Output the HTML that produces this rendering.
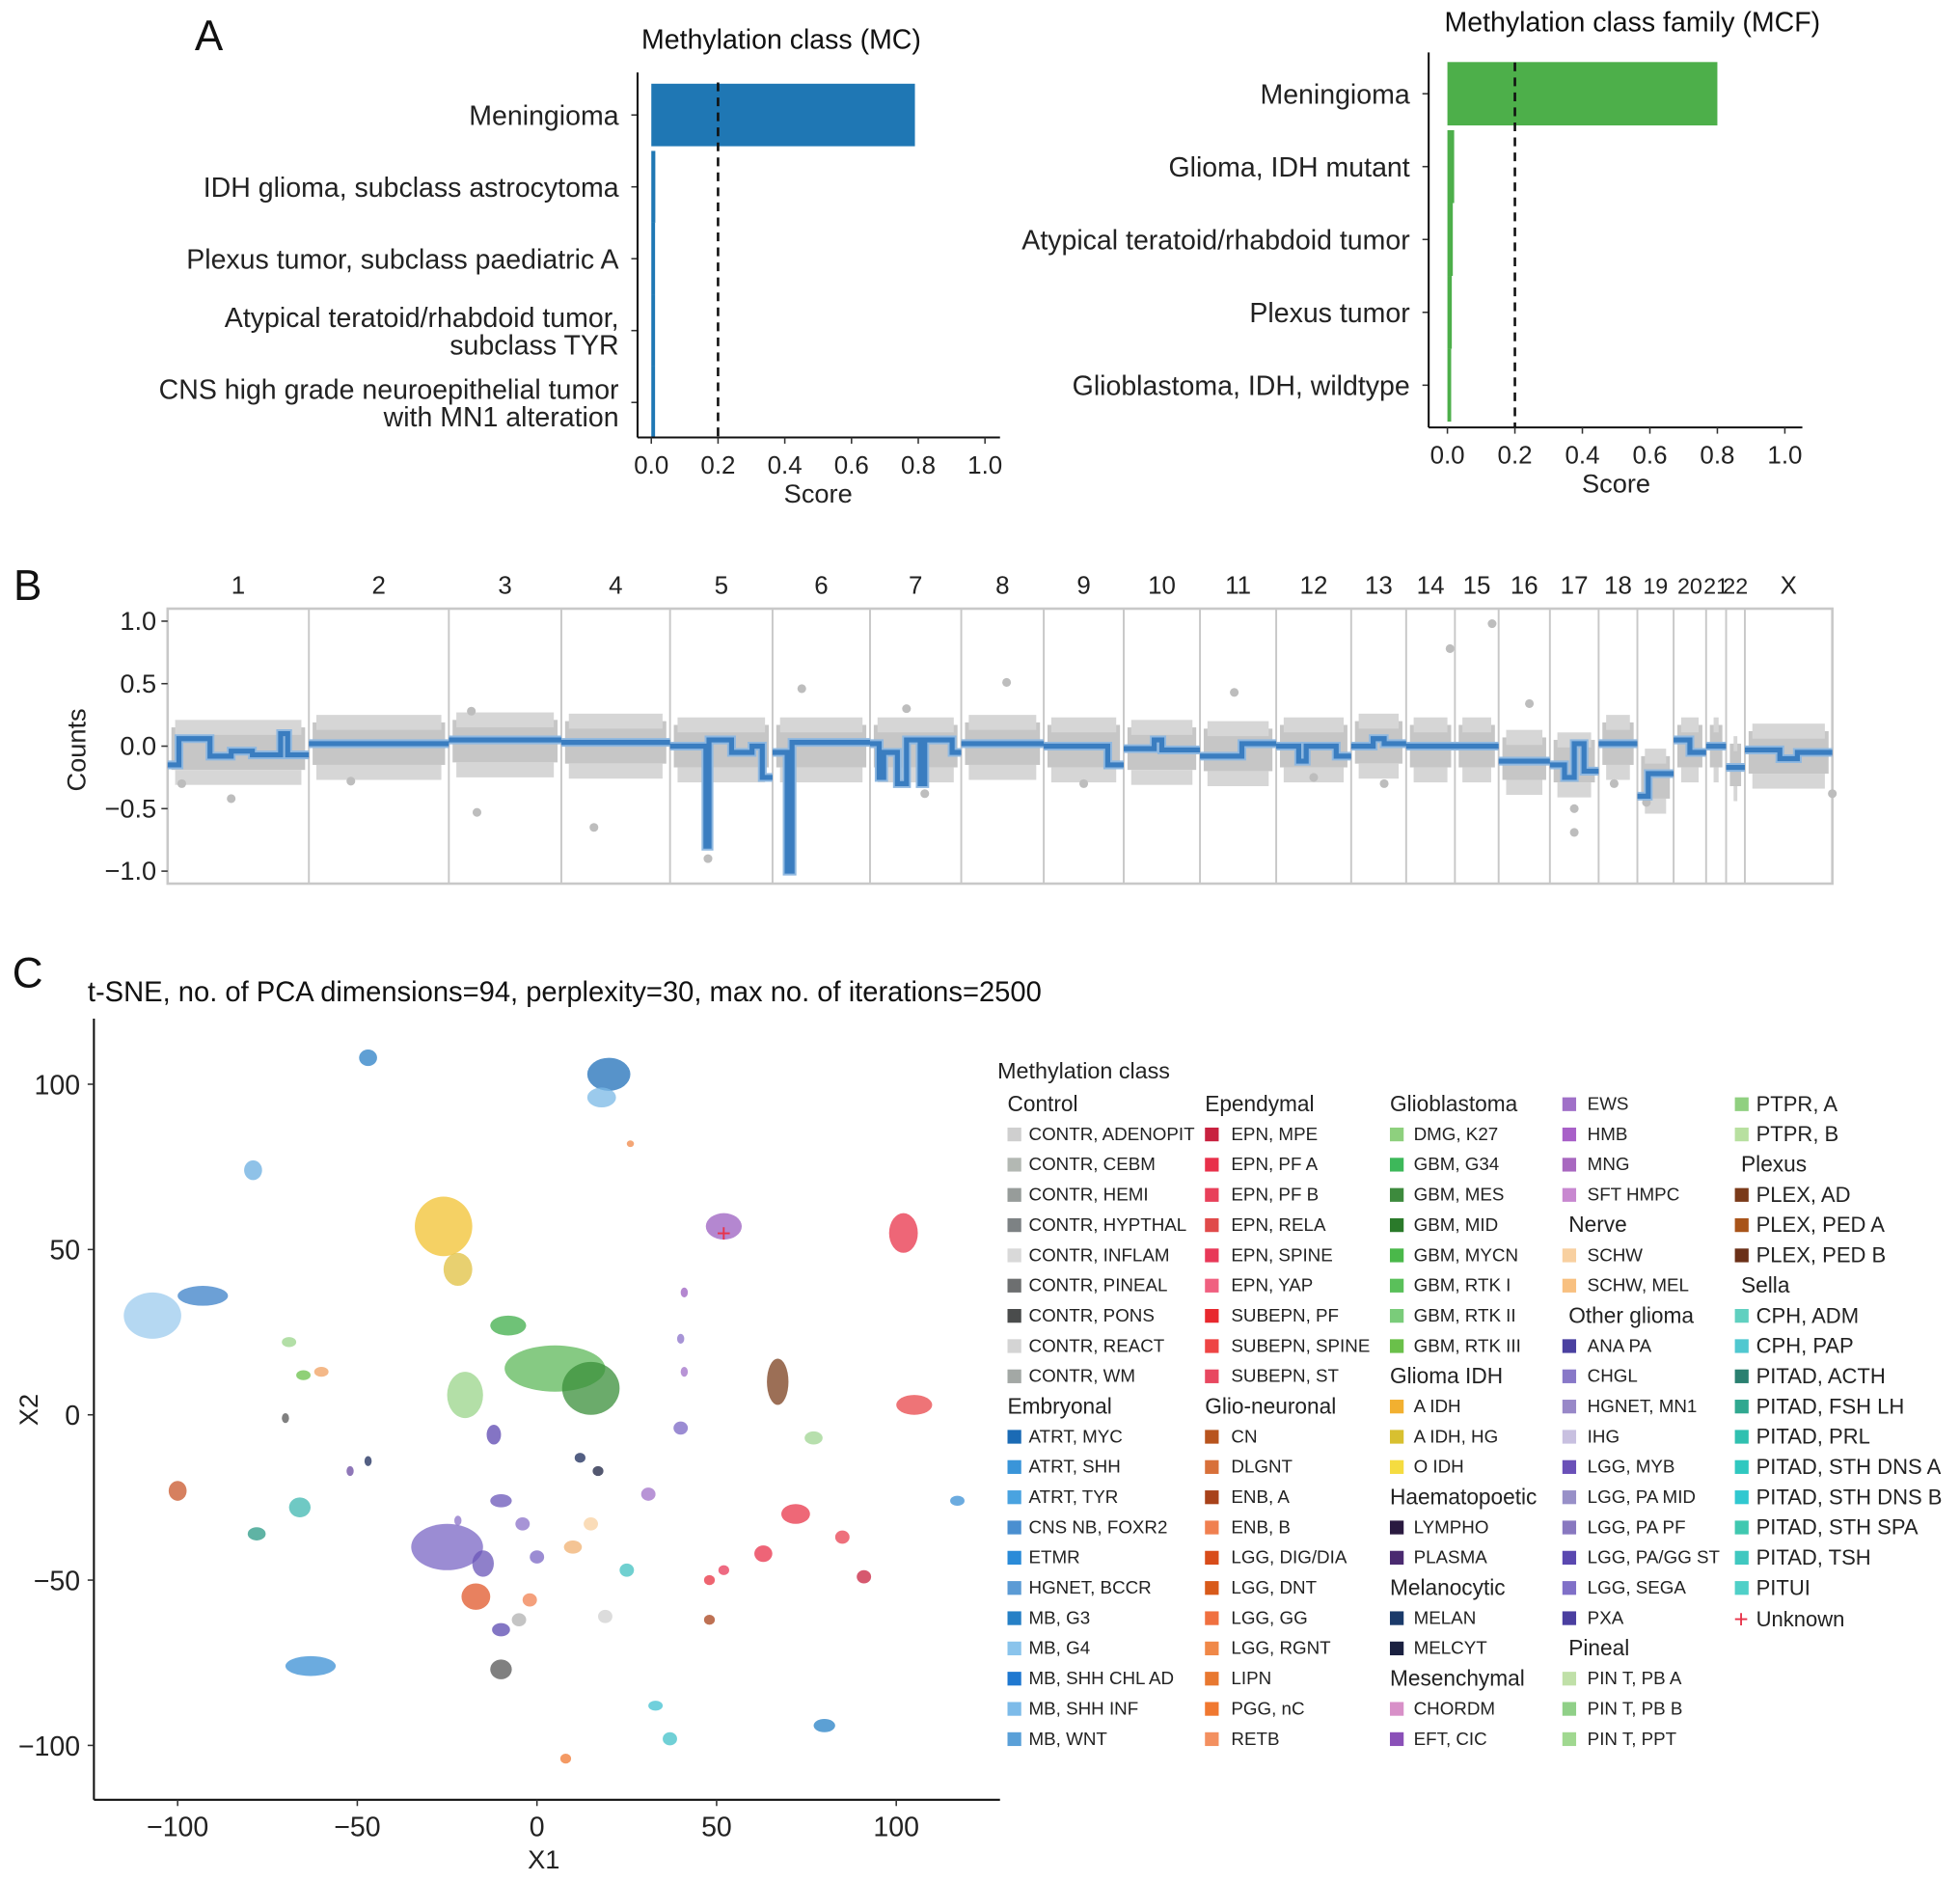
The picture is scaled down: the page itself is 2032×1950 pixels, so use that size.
<!DOCTYPE html>
<html><head><meta charset="utf-8"><style>
html,body{margin:0;padding:0;background:#fff;}
svg{display:block;font-family:"Liberation Sans",sans-serif;}
</style></head><body>
<svg id="fig" xmlns="http://www.w3.org/2000/svg" width="2032" height="1950" viewBox="0 0 1568 1505"></svg>
<script>
// ---------- Panel A data ----------
const mcCats=['Meningioma','IDH glioma, subclass astrocytoma','Plexus tumor, subclass paediatric A','Atypical teratoid/rhabdoid tumor,|subclass TYR','CNS high grade neuroepithelial tumor|with MN1 alteration'];
const mcScores=[0.79,0.012,0.008,0.007,0.006];
const mcfCats=['Meningioma','Glioma, IDH mutant','Atypical teratoid/rhabdoid tumor','Plexus tumor','Glioblastoma, IDH, wildtype'];
const mcfScores=[0.8,0.02,0.016,0.013,0.011];
const scoreTicks=[0,0.2,0.4,0.6,0.8,1.0];
const threshold=0.2;
// ---------- Panel B data ----------
const chrLabels=['1','2','3','4','5','6','7','8','9','10','11','12','13','14','15','16','17','18','19','20','21','22','X'];
const chrSizes=[113,112,90,87,82,78,73,66,64,61,61,60,44,39,35,41,39,31,29,26,16,15,70];
const chrBase=[-0.02,0.02,0.04,0.03,0.0,0.0,0.0,0.02,0.0,-0.02,-0.03,0.0,0.03,0.0,0.0,-0.1,-0.12,0.02,-0.25,0.0,0.0,-0.15,-0.05];
const segChr=[0,0,0,0,0,0,0,1,2,3,4,4,4,4,4,4,5,5,5,6,6,6,6,6,6,6,6,7,8,8,9,9,9,10,10,11,11,11,11,12,12,12,13,14,15,16,16,16,16,17,18,18,19,19,20,21,22,22,22];
const segStart=[0,0.08,0.3,0.45,0.6,0.8,0.85,0,0,0,0,0.35,0.38,0.6,0.8,0.9,0,0.15,0.2,0,0.1,0.15,0.3,0.4,0.55,0.6,0.9,0,0,0.8,0,0.4,0.5,0,0.55,0,0.3,0.4,0.8,0,0.4,0.6,0,0,0,0,0.3,0.5,0.7,0,0,0.3,0,0.5,0,0,0,0.4,0.6];
const segEnd=[0.08,0.3,0.45,0.6,0.8,0.85,1,1,1,1,0.35,0.38,0.6,0.8,0.9,1,0.15,0.2,1,0.1,0.15,0.3,0.4,0.55,0.6,0.9,1,1,0.8,1,0.4,0.5,1,0.55,1,0.3,0.4,0.8,1,0.4,0.6,1,1,1,1,0.3,0.5,0.7,1,1,0.3,1,0.5,1,1,1,0.4,0.6,1];
const segVal=[-0.15,0.06,-0.08,-0.04,-0.07,0.1,-0.07,0.02,0.05,0.03,0.0,-0.8,0.05,-0.05,0.0,-0.25,-0.05,-1.0,0.03,0.02,-0.25,-0.05,-0.3,0.05,-0.3,0.05,-0.05,0.02,0.0,-0.15,-0.02,0.05,-0.03,-0.08,0.02,0.0,-0.12,0.0,-0.08,0.0,0.06,0.02,0.0,0.0,-0.12,-0.15,-0.25,0.02,-0.2,0.02,-0.4,-0.22,0.05,-0.05,0.0,-0.17,-0.03,-0.1,-0.05];
const outChr=[0,2,3,4,5,6,7,10,13,14,15,16,16,18,22,0,1,2,6,8,11,12,17];
const outPos=[0.45,0.25,0.3,0.37,0.3,0.6,0.55,0.45,0.9,0.85,0.6,0.5,0.5,0.25,1.0,0.1,0.3,0.2,0.4,0.5,0.5,0.6,0.4];
const outVal=[-0.42,-0.53,-0.65,-0.9,0.46,-0.38,0.51,0.43,0.78,0.98,0.34,-0.69,-0.5,-0.45,-0.38,-0.3,-0.28,0.28,0.3,-0.3,-0.25,-0.3,-0.3];
const countTicks=[1.0,0.5,0.0,-0.5,-1.0];
// ---------- Panel C data ----------
const clX=[-47,20,18,-79,-107,-93,-26,-22,52,102,67,-8,5,15,-20,-12,105,77,-69,-65,-60,-70,12,17,-47,-52,-100,-66,-78,-10,-25,-15,-4,0,10,15,31,25,72,63,85,91,48,52,48,117,-17,-2,-10,-5,19,-63,-10,33,37,80,8,26,41,40,41,40,-22];
const clY=[108,103,96,74,30,36,57,44,57,55,10,27,14,8,6,-6,3,-7,22,12,13,-1,-13,-17,-14,-17,-23,-28,-36,-26,-40,-45,-33,-43,-40,-33,-24,-47,-30,-42,-37,-49,-50,-47,-62,-26,-55,-56,-65,-62,-61,-76,-77,-88,-98,-94,-104,82,37,23,13,-4,-32];
const clRx=[2.5,6,4,2.5,8,7,8,4,5,4,3,5,14,8,5,2,5,2.5,2,2,2,1,1.5,1.5,1,1,2.5,3,2.5,3,10,3,2,2,2.5,2,2,2,4,2.5,2,2,1.5,1.5,1.5,2,4,2,2.5,2,2,7,3,2,2,3,1.5,1,1,1,1,2,1];
const clRy=[2.5,5,3,3,7,3,9,5,4,6,7,3,7,8,7,3,3,2,1.5,1.5,1.5,1.5,1.5,1.5,1.5,1.5,3,3,2,2,7,4,2,2,2,2,2,2,3,2.5,2,2,1.5,1.5,1.5,1.5,4,2,2,2,2,3,3,1.5,2,2,1.5,1,1.5,1.5,1.5,2,1.5];
const clColor=['#2a7fc6','#1f6fb8','#7ab8e6','#6aaee0','#9ccbed','#3b80c8','#f2c230','#e0c040','#9b5fc0','#e8334a','#7b3f1e','#3fae49','#5db85a','#3a8f3a','#9ad48a','#5b45b0','#e8454a','#9fd491','#9ad48a','#6ac04a','#f0a060','#555555','#1a2a5a','#1a2040','#1a2a5a','#6a4aa0','#c8562a','#3fb7b0','#2a9a85','#6a55b8','#7a66c4','#6a55b8','#8a70c8','#7a66c4','#f0b070','#f8d0a0','#a070c8','#40c0c0','#e8364a','#e8304a','#e84050','#c8213f','#e83040','#e83858','#a8421a','#3a8fd4','#e0572a','#f08050','#5a48b0','#b0b0b0','#d0d0d0','#3a8fd4','#555','#40c0d0','#40c0c8','#2680c6','#f07830','#f08848','#9b5fc0','#8a70c8','#a070c8','#7a66c4','#8a70c8'];
const unknownX=52, unknownY=55;
const xTicks=[-100,-50,0,50,100];
const yTicks=[100,50,0,-50,-100];
// ---------- Legend data ----------
const legCol1=['#Control','CONTR, ADENOPIT','CONTR, CEBM','CONTR, HEMI','CONTR, HYPTHAL','CONTR, INFLAM','CONTR, PINEAL','CONTR, PONS','CONTR, REACT','CONTR, WM','#Embryonal','ATRT, MYC','ATRT, SHH','ATRT, TYR','CNS NB, FOXR2','ETMR','HGNET, BCCR','MB, G3','MB, G4','MB, SHH CHL AD','MB, SHH INF','MB, WNT'];
const legCol1C=['','#cfcfcf','#b3b8b3','#979c9a','#7d8284','#d9d9d9','#6d6f70','#4a4c4c','#d4d4d4','#a3a8a5','','#1b6bb5','#3a95d9','#4aa3e0','#4a8fd0','#2a8bd8','#5b9bd5','#2680c6','#8ac4ec','#1f78d0','#7dbbe9','#5aa0d8'];
const legCol2=['#Ependymal','EPN, MPE','EPN, PF A','EPN, PF B','EPN, RELA','EPN, SPINE','EPN, YAP','SUBEPN, PF','SUBEPN, SPINE','SUBEPN, ST','#Glio-neuronal','CN','DLGNT','ENB, A','ENB, B','LGG, DIG/DIA','LGG, DNT','LGG, GG','LGG, RGNT','LIPN','PGG, nC','RETB'];
const legCol2C=['','#c8213f','#e8304a','#e8405a','#e04a4a','#e83858','#f06080','#e8282e','#ee4444','#e84860','','#b8541e','#d8703a','#a8421a','#f08050','#d84c1a','#d85a1a','#f07040','#f08848','#e87830','#f07830','#f39060'];
const legCol3=['#Glioblastoma','DMG, K27','GBM, G34','GBM, MES','GBM, MID','GBM, MYCN','GBM, RTK I','GBM, RTK II','GBM, RTK III','#Glioma IDH','A IDH','A IDH, HG','O IDH','#Haematopoetic','LYMPHO','PLASMA','#Melanocytic','MELAN','MELCYT','#Mesenchymal','CHORDM','EFT, CIC'];
const legCol3C=['','#8ed07e','#3db85a','#3d8a3d','#2a7a2a','#4ab84a','#5ac05a','#7acc7a','#6ac04a','','#f2b030','#d8c030','#f5dc40','','#2a1a40','#4a2a70','','#1a3a6a','#1a2040','','#d890c8','#8a50b8'];
const legCol4=['EWS','HMB','MNG','SFT HMPC','#Nerve','SCHW','SCHW, MEL','#Other glioma','ANA PA','CHGL','HGNET, MN1','IHG','LGG, MYB','LGG, PA MID','LGG, PA PF','LGG, PA/GG ST','LGG, SEGA','PXA','#Pineal','PIN T, PB A','PIN T, PB B','PIN T, PPT'];
const legCol4C=['#a070c8','#a860c8','#a868c0','#c888d0','','#f8d0a0','#f8c080','','#4a40a0','#8878c8','#9888c8','#c8c0e0','#6a50b8','#9890c8','#8878c0','#5a48b0','#8070c8','#4a3ea0','','#c0e0a8','#90d088','#a0d890'];
const legCol5=['PTPR, A','PTPR, B','#Plexus','PLEX, AD','PLEX, PED A','PLEX, PED B','#Sella','CPH, ADM','CPH, PAP','PITAD, ACTH','PITAD, FSH LH','PITAD, PRL','PITAD, STH DNS A','PITAD, STH DNS B','PITAD, STH SPA','PITAD, TSH','PITUI','+Unknown'];
const legCol5C=['#90d080','#b8e0a0','','#7a3a1a','#a8541a','#6a3018','','#60d0c0','#50c8d0','#2a8070','#30a890','#30c0b0','#30c8c0','#30c8d0','#40c8b0','#40c8c0','#50d0c8','#e8334a'];

const NS='http://www.w3.org/2000/svg';
const svg=document.getElementById('fig');
function mk(parent,tag,attrs,text){const e=document.createElementNS(NS,tag);for(const k in attrs)e.setAttribute(k,attrs[k]);if(text!==undefined)e.textContent=text;parent.appendChild(e);return e;}
function grp(name){const g=mk(svg,'g',{});


return g;}

[['A',167,40],['B',22,480],['C',22,790]].forEach(function(p){
  const t=mk(svg,'text',{x:p[1],y:p[2],'font-size':34,'text-anchor':'middle',fill:'#111'},p[0]);
  
  
});

function barChart(name,cats,scores,o,color){
  const g=grp(name);
  const sx=v=>o.x0+v*(o.x1-o.x0);
  const cy=i=>o.c0+i*o.step;
  const t=mk(g,'text',{x:o.titleX,y:o.titleY,'font-size':22,'text-anchor':'middle',fill:'#111'},o.title);
  
  
  cats.forEach(function(c,i){
    const h=(i===0?0.87:1.0)*o.step;
    const w=Math.max(sx(scores[i])-sx(0),3);
    const b=mk(g,'rect',{x:sx(0),y:cy(i)-h/2,width:w,height:h,fill:color});
    
    
    const lines=c.split('|');
    lines.forEach(function(l,j){
      const yy=cy(i)+8+(lines.length===2?(j===0?-11:11):0);
      const lt=mk(g,'text',{x:o.axX-15,y:yy,'font-size':22,'text-anchor':'end',fill:'#222'},l);
      
      
    });
    mk(g,'line',{x1:o.axX-5,x2:o.axX,y1:cy(i),y2:cy(i),stroke:'#333','stroke-width':1.2});
  });
  const dl=mk(g,'line',{x1:sx(threshold),x2:sx(threshold),y1:o.yTop+8,y2:o.yBot,stroke:'#111','stroke-width':2,'stroke-dasharray':'7,5'});
  
  
  const ya=mk(g,'line',{x1:o.axX,x2:o.axX,y1:o.yTop,y2:o.yBot,stroke:'#111','stroke-width':1.6});
  
  
  const xa=mk(g,'line',{x1:o.axX,x2:o.axXEnd,y1:o.yBot,y2:o.yBot,stroke:'#111','stroke-width':1.6});
  
  
  scoreTicks.forEach(function(v){
    mk(g,'line',{x1:sx(v),x2:sx(v),y1:o.yBot,y2:o.yBot+5,stroke:'#333','stroke-width':1.2});
    const tt=mk(g,'text',{x:sx(v),y:o.yBot+29,'font-size':20,'text-anchor':'middle',fill:'#222'},v.toFixed(1));
    
    
  });
  const st=mk(g,'text',{x:(sx(0)+sx(1))/2,y:o.yBot+52,'font-size':21,'text-anchor':'middle',fill:'#222'},'Score');
  
  
}
barChart('mc-bar-chart',mcCats,mcScores,{x0:521,x1:788,c0:92,step:57.5,axX:510,axXEnd:800,yTop:58,yBot:350,title:'Methylation class (MC)',titleX:625,titleY:39},'#1f77b4');
barChart('mcf-bar-chart',mcfCats,mcfScores,{x0:1158,x1:1428,c0:75,step:58.3,axX:1143,axXEnd:1442,yTop:42,yBot:342,title:'Methylation class family (MCF)',titleX:1306,titleY:25},'#4daf4a');

// ---------- Panel B ----------
(function(){
  const g=grp('copy-number-plot');
  const X0=134,X1=1466,Y0=487,Y1=707;
  const tot=chrSizes.reduce((a,b)=>a+b,0);
  const starts=[];let acc=0;chrSizes.forEach(s=>{starts.push(acc);acc+=s;});
  const gx=(c,f)=>X0+(starts[c]+f*chrSizes[c])/tot*(X1-X0);
  const gy=v=>597-v*100;
  const fr=mk(g,'rect',{x:X0,y:Y0,width:X1-X0,height:Y1-Y0,fill:'#fff',stroke:'#c8c8c8','stroke-width':2});
  
  
  chrLabels.forEach(function(l,c){
    const b=mk(g,'rect',{x:gx(c,0)+3,y:gy(chrBase[c]+0.17),width:gx(c,1)-gx(c,0)-6,height:34,fill:'#c6c6c6'});
    
    
    mk(g,'rect',{x:gx(c,0)+6,y:gy(chrBase[c]+0.23),width:gx(c,1)-gx(c,0)-12,height:12,fill:'#d6d6d6'});
    mk(g,'rect',{x:gx(c,0)+6,y:gy(chrBase[c]-0.17),width:gx(c,1)-gx(c,0)-12,height:12,fill:'#d6d6d6'});
  });
  outVal.forEach(function(v,i){
    const p=mk(g,'circle',{cx:gx(outChr[i],outPos[i]),cy:gy(v),r:3.5,fill:'#bdbdbd'});
    
    
  });
  chrLabels.forEach(function(l,c){
    if(c>0){mk(g,'line',{x1:gx(c,0),x2:gx(c,0),y1:Y0,y2:Y1,stroke:'#c8c8c8','stroke-width':1.5});}
    const t=mk(g,'text',{x:gx(c,0.5),y:475,'font-size':c>=18&&c<=21?18:20,'text-anchor':'middle',fill:'#222'},l);
    
    
  });
  let d='';let pc=-1;
  segVal.forEach(function(v,i){
    const c=segChr[i];
    const xa=gx(c,segStart[i]),xb=gx(c,segEnd[i]);
    if(c!==pc){d+='M'+xa+','+gy(v);}else{d+='L'+xa+','+gy(v);}
    d+='L'+xb+','+gy(v);
    pc=c;
  });
  const red=mk(g,'path',{d:d,fill:'none',stroke:'#e0302a','stroke-width':1.5,transform:'translate(0,2)'});
  
  
  const halo=mk(g,'path',{d:d,fill:'none',stroke:'#8fb8e0','stroke-width':7});
  
  
  const blue=mk(g,'path',{d:d,fill:'none',stroke:'#3a7dc0','stroke-width':4});
  
  
  countTicks.forEach(function(v){
    mk(g,'line',{x1:X0-5,x2:X0,y1:gy(v),y2:gy(v),stroke:'#333','stroke-width':1.2});
    const t=mk(g,'text',{x:X0-9,y:gy(v)+7,'font-size':21,'text-anchor':'end',fill:'#222'},v.toFixed(1).replace('-','\u2212'));
    
    
  });
  const yt=mk(g,'text',{x:68,y:600,'font-size':21,'text-anchor':'middle',fill:'#222',transform:'rotate(-90 68 600)'},'Counts');
  
  
})();

// ---------- Panel C ----------
(function(){
  const g=grp('tsne-plot');
  const sx=v=>429.5+v*2.875;
  const sy=v=>1132-v*2.645;
  const t=mk(g,'text',{x:70,y:801,'font-size':22.5,fill:'#111'},'t-SNE, no. of PCA dimensions=94, perplexity=30, max no. of iterations=2500');
  
  
  clX.forEach(function(x,i){
    const e=mk(g,'ellipse',{cx:sx(x),cy:sy(clY[i]),rx:clRx[i]*2.875,ry:clRy[i]*2.645,fill:clColor[i],'fill-opacity':0.75});
    
    
  });
  const u=mk(g,'text',{x:sx(unknownX),y:sy(unknownY)+7,'font-size':20,'text-anchor':'middle',fill:'#e8334a'},'+');
  
  
  const ya=mk(g,'line',{x1:75,x2:75,y1:815,y2:1440,stroke:'#111','stroke-width':1.6});
  
  
  const xa=mk(g,'line',{x1:75,x2:800,y1:1440,y2:1440,stroke:'#111','stroke-width':1.6});
  
  
  xTicks.forEach(function(v){
    mk(g,'line',{x1:sx(v),x2:sx(v),y1:1440,y2:1445,stroke:'#333','stroke-width':1.2});
    const tt=mk(g,'text',{x:sx(v),y:1469,'font-size':22,'text-anchor':'middle',fill:'#222'},String(v).replace('-','\u2212'));
    
    
  });
  yTicks.forEach(function(v){
    mk(g,'line',{x1:70,x2:75,y1:sy(v),y2:sy(v),stroke:'#333','stroke-width':1.2});
    const tt=mk(g,'text',{x:64,y:sy(v)+8,'font-size':22,'text-anchor':'end',fill:'#222'},String(v).replace('-','\u2212'));
    
    
  });
  const x1=mk(g,'text',{x:435,y:1495,'font-size':21,'text-anchor':'middle',fill:'#222'},'X1');
  
  
  const x2=mk(g,'text',{x:30,y:1128,'font-size':21,'text-anchor':'middle',fill:'#222',transform:'rotate(-90 30 1128)'},'X2');
  
  
})();

// ---------- Legend ----------
(function(){
  const g=grp('legend');
  const lt=mk(g,'text',{x:798,y:863,'font-size':18,fill:'#222'},'Methylation class');
  
  
  const cols=[[legCol1,legCol1C,806,823,14.5],[legCol2,legCol2C,964,985,14.5],[legCol3,legCol3C,1112,1131,14.5],[legCol4,legCol4C,1250,1270,14.5],[legCol5,legCol5C,1388,1405,17]];
  cols.forEach(function(col,ci){
    col[0].forEach(function(lab,r){
      const y=883+r*24.19;
      if(lab[0]==='#'){
        const h=mk(g,'text',{x:(ci>=3?col[2]+5:col[2]),y:y+6,'font-size':17.5,fill:'#222'},lab.slice(1));
        
        
      } else if(lab[0]==='+'){
        const p=mk(g,'text',{x:col[2]+5,y:y+8,'font-size':20,'text-anchor':'middle',fill:col[1][r]},'+');
        
        
        const tx=mk(g,'text',{x:col[3],y:y+7,'font-size':col[4],fill:'#222'},lab.slice(1));
        
        
      } else {
        const s=mk(g,'rect',{x:col[2],y:y-5,width:11,height:11,fill:col[1][r]});
        
        
        const tx=mk(g,'text',{x:col[3],y:y+(col[4]>15?6:5),'font-size':col[4],fill:'#222'},lab);
        
        
      }
    });
  });
})();
</script>
</body></html>
